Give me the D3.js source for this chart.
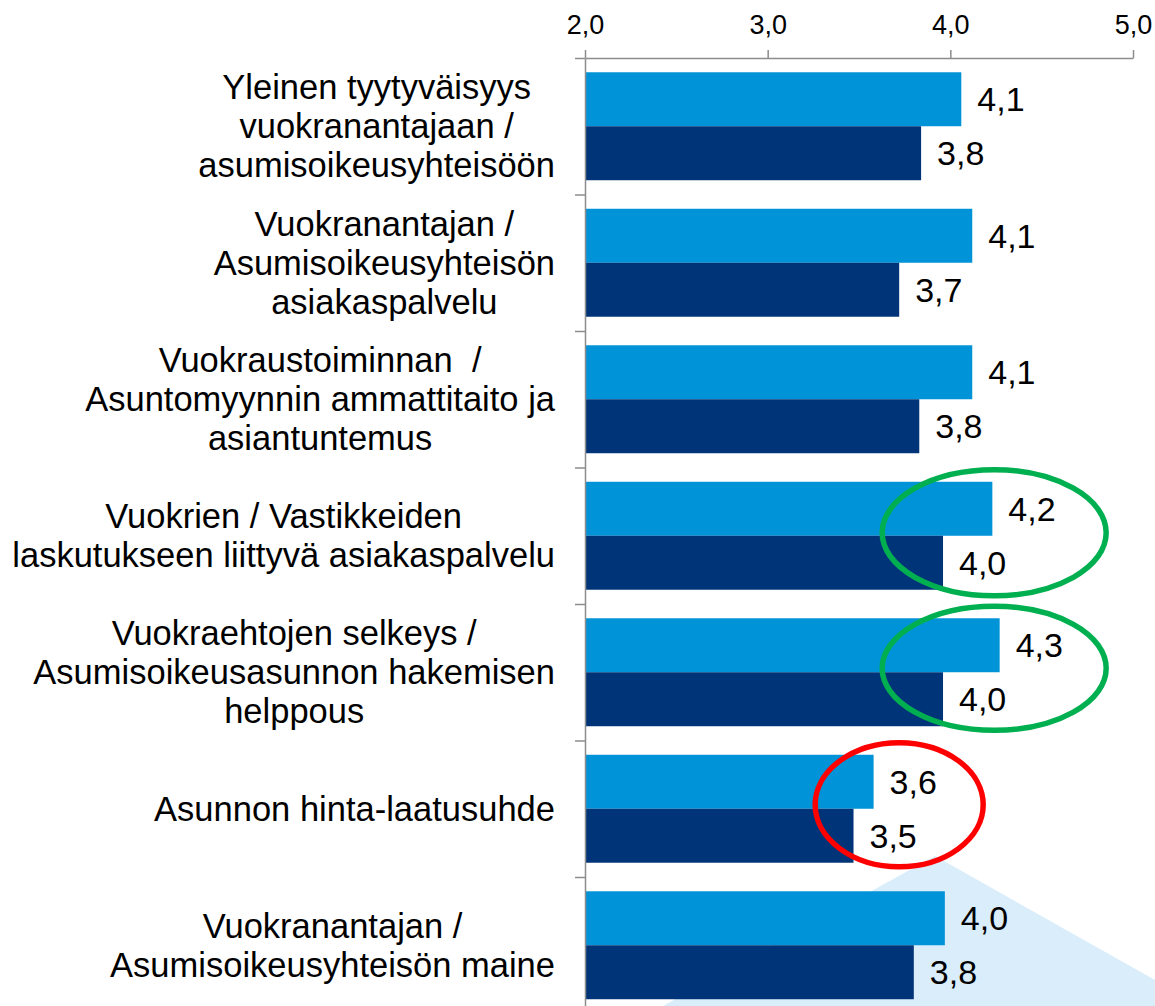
<!DOCTYPE html>
<html>
<head>
<meta charset="utf-8">
<script src="https://cdn.jsdelivr.net/npm/d3@7"></script>
<style>
    html, body { margin: 0; padding: 0; background: #fff; }
    svg { display: block; font-family: "Liberation Sans", Arial, sans-serif; }
    .axis path, .axis line { stroke: #8c8c8c; stroke-width: 1.5px; }
    .axis text { fill: #000; font-family: "Liberation Sans", Arial, sans-serif; }
</style>
</head>
<body>
<script>
const categories = [
    ['Yleinen tyytyväisyys', 'vuokranantajaan /', 'asumisoikeusyhteisöön'],
    ['Vuokranantajan /', 'Asumisoikeusyhteisön', 'asiakaspalvelu'],
    ['Vuokraustoiminnan  /', 'Asuntomyynnin ammattitaito ja', 'asiantuntemus'],
    ['Vuokrien / Vastikkeiden', 'laskutukseen liittyvä asiakaspalvelu'],
    ['Vuokraehtojen selkeys /', 'Asumisoikeusasunnon hakemisen', 'helppous'],
    ['Asunnon hinta-laatusuhde'],
    ['Vuokranantajan /', 'Asumisoikeusyhteisön maine']
]
const seriesLight = [4.06, 4.12, 4.12, 4.23, 4.27, 3.58, 3.97]
const seriesDark = [3.84, 3.72, 3.83, 3.96, 3.96, 3.47, 3.80]
const xTicks = [2, 3, 4, 5]
// annotation ellipses: category index, centre value, colour
const highlights = [
    { cat: 3, at: 4.24, color: '#00b050', rx: 112, ry: 63, dy: -3 },
    { cat: 4, at: 4.24, color: '#00b050', rx: 112, ry: 62, dy: -4 },
    { cat: 5, at: 3.72, color: '#ff0000', rx: 84, ry: 62, dy: -4 }
]

const W = 1155, H = 1006
const colLight = '#0093d7', colDark = '#003478'
const fmt = v => v.toFixed(1).replace('.', ',')

let svg = d3.select('body').append('svg')
    .attr('width', W)
    .attr('height', H)

// decorative background triangle
svg.append('path')
    .attr('d', 'M935,856 L1155,980 L1155,1006 L663,1006 Z')
    .attr('fill', '#d9edfa')

let x = d3.scaleLinear().domain([2, 5]).range([585, 1133])
let y = d3.scaleBand().domain(d3.range(categories.length))
    .range([58, 58 + categories.length * 136.5])
    .paddingInner(0.209).paddingOuter(0.1045)
let sub = d3.scaleBand().domain(['light', 'dark']).range([0, y.bandwidth()])
let yEdge = d3.scaleLinear().domain([0, categories.length]).range(y.range())

const rows = categories.map((c, i) => ({ i, lines: c, light: seriesLight[i], dark: seriesDark[i] }))

// bars
let g = svg.append('g')
rows.forEach(r => {
    [['light', r.light, colLight], ['dark', r.dark, colDark]].forEach(([k, v, c]) => {
        g.append('rect')
            .attr('x', x(2))
            .attr('y', y(r.i) + sub(k))
            .attr('width', x(v) - x(2))
            .attr('height', sub.bandwidth())
            .attr('fill', c)
        g.append('text')
            .attr('x', x(v) + 16)
            .attr('y', y(r.i) + sub(k) + sub.bandwidth() / 2)
            .attr('dy', '0.35em')
            .attr('font-size', '34px')
            .attr('fill', '#000')
            .text(fmt(v))
    })
})

// axes
svg.append('g')
    .attr('class', 'axis axis--y')
    .attr('transform', 'translate(585,0)')
    .call(d3.axisLeft(yEdge).tickValues(d3.range(categories.length + 1)).tickSize(10).tickSizeOuter(0).tickFormat(''))
svg.append('g')
    .attr('class', 'axis axis--x')
    .attr('transform', 'translate(0,58)')
    .call(d3.axisTop(x).tickValues(xTicks).tickSize(8).tickSizeOuter(0).tickPadding(16).tickFormat(fmt))
    .attr('font-size', 27)
svg.selectAll('.axis .domain').attr('fill', 'none')

// category labels, centred block with right edge at 555
const lineH = 39
rows.forEach(r => {
    let t = svg.append('text')
        .attr('font-size', '34.5px')
        .attr('fill', '#000')
        .attr('text-anchor', 'middle')
        .style('white-space', 'pre')
    const cy = y(r.i) + y.bandwidth() / 2
    const top = cy - (r.lines.length - 1) * lineH / 2
    let spans = r.lines.map((l, j) => t.append('tspan')
        .attr('y', top + j * lineH)
        .attr('dy', '0.35em')
        .text(l))
    const maxW = d3.max(spans, s => s.node().getComputedTextLength())
    spans.forEach(s => s.attr('x', 555 - maxW / 2))
})

// highlight ellipses
highlights.forEach(h => {
    svg.append('ellipse')
        .attr('cx', x(h.at))
        .attr('cy', y(h.cat) + y.bandwidth() / 2 + h.dy)
        .attr('rx', h.rx)
        .attr('ry', h.ry)
        .attr('fill', 'none')
        .attr('stroke', h.color)
        .attr('stroke-width', 5.5)
})
</script>
</body>
</html>
